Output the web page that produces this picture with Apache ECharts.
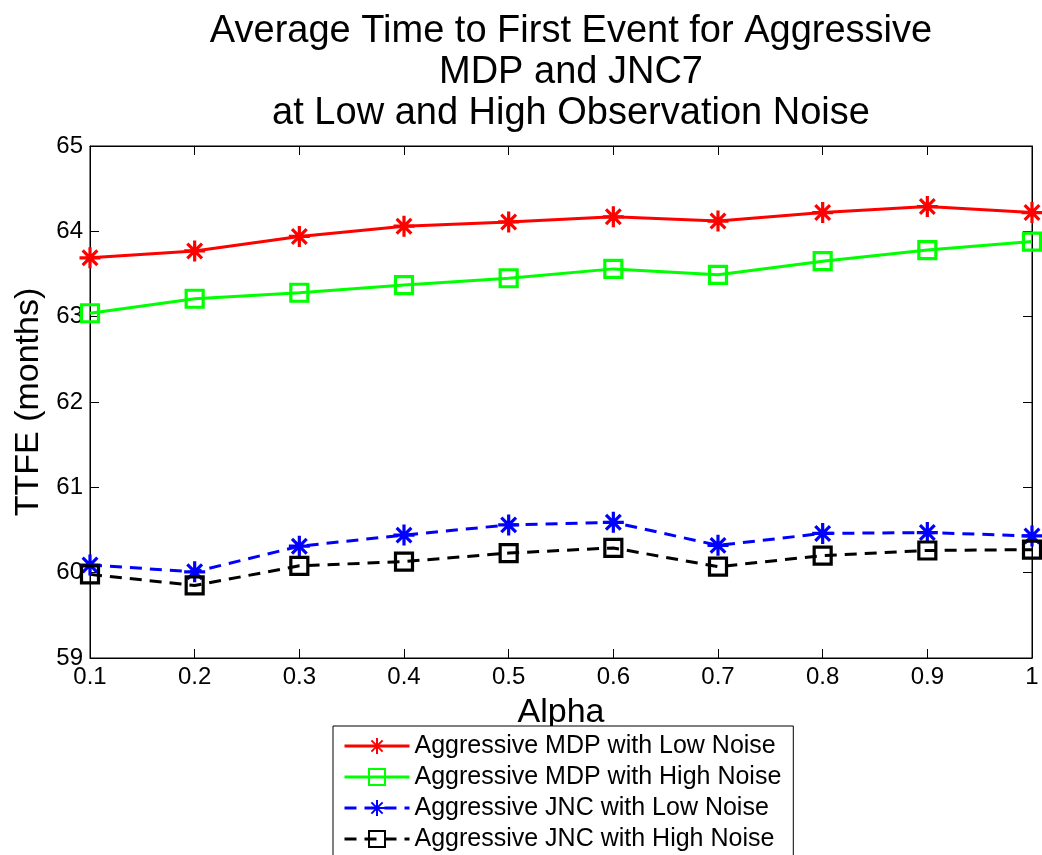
<!DOCTYPE html>
<html>
<head>
<meta charset="utf-8">
<script src="https://cdn.jsdelivr.net/npm/echarts@6/dist/echarts.min.js"></script>
<style>
html,body{margin:0;padding:0;background:#fff;}
#chart{width:1042px;height:855px;}
</style>
</head>
<body>
<div id="chart"></div>
<script>
const alphas = ['0.1','0.2','0.3','0.4','0.5','0.6','0.7','0.8','0.9','1'];
const mdpLow  = [63.69, 63.77, 63.94, 64.06, 64.11, 64.17, 64.12, 64.22, 64.29, 64.22];
const mdpHigh = [63.04, 63.21, 63.28, 63.37, 63.45, 63.56, 63.49, 63.65, 63.78, 63.88];
const jncLow  = [60.09, 60.01, 60.31, 60.44, 60.56, 60.59, 60.32, 60.46, 60.47, 60.43];
const jncHigh = [59.98, 59.85, 60.08, 60.13, 60.23, 60.29, 60.07, 60.20, 60.26, 60.27];
const names = ['Aggressive MDP with Low Noise','Aggressive MDP with High Noise','Aggressive JNC with Low Noise','Aggressive JNC with High Noise'];
const titleLines = ['Average Time to First Event for Aggressive','MDP and JNC7','at Low and High Observation Noise'];

const FONT = 'Liberation Sans, Arial, sans-serif';
const star = 'path://M10,0L10,20M0,10L20,10M3,3L17,17M3,17L17,3';

function mk(name, data, color, symbol, size, dashed) {
  return {
    name: name, type: 'line', data: data,
    xAxisIndex: 0, yAxisIndex: 0,
    symbol: symbol, symbolSize: size, showAllSymbol: true,
    lineStyle: {color: color, width: 3, type: dashed ? [12, 8] : 'solid'},
    itemStyle: {color: symbol === star ? color : 'rgba(0,0,0,0)', borderColor: color, borderWidth: 3.2},
    animation: false
  };
}

const chart = echarts.init(document.getElementById('chart'));
chart.setOption({
  backgroundColor: '#fff',
  title: {
    text: titleLines.join('\n'),
    left: 566, top: 6, textAlign: 'center',
    textStyle: {fontFamily: FONT, fontSize: 38, fontWeight: 'normal', color: '#000', lineHeight: 41}
  },
  grid: {left: 90, right: 10, top: 146, bottom: 197, show: true, borderColor: '#000', borderWidth: 1, backgroundColor: '#fff'},
  legend: {
    orient: 'vertical', left: 333, top: 726, height: 200,
    data: names,
    backgroundColor: '#fff', borderColor: '#000', borderWidth: 1,
    padding: [7, 12, 7, 10],
    itemWidth: 65, itemHeight: 20, itemGap: 5,
    lineStyle: {width: 3},
    textStyle: {fontFamily: FONT, fontSize: 25, lineHeight: 26, color: '#000'}
  },
  xAxis: [{
    type: 'category', data: alphas, boundaryGap: false, position: 'bottom',
    name: 'Alpha', nameLocation: 'middle', nameGap: 38,
    nameTextStyle: {fontFamily: FONT, fontSize: 34, color: '#000'},
    axisLine: {show: true, lineStyle: {color: '#000', width: 1}},
    axisTick: {show: true, inside: true, length: 9, alignWithLabel: true, lineStyle: {color: '#000'}},
    axisLabel: {fontFamily: FONT, fontSize: 24, color: '#000', margin: 7, showMaxLabel: true, showMinLabel: true, interval: 0},
    splitLine: {show: false}
  }, {
    type: 'category', data: alphas, boundaryGap: false, position: 'top',
    axisLine: {show: true, lineStyle: {color: '#000', width: 1}},
    axisTick: {show: true, inside: true, length: 9, alignWithLabel: true, lineStyle: {color: '#000'}},
    axisLabel: {show: false}, splitLine: {show: false}
  }],
  yAxis: [{
    type: 'value', min: 59, max: 65, interval: 1, position: 'left',
    name: 'TTFE (months)', nameLocation: 'middle', nameGap: 42,
    nameTextStyle: {fontFamily: FONT, fontSize: 34, color: '#000'},
    axisLine: {show: true, lineStyle: {color: '#000', width: 1}},
    axisTick: {show: true, inside: true, length: 9, lineStyle: {color: '#000'}},
    axisLabel: {fontFamily: FONT, fontSize: 24, color: '#000', margin: 7},
    splitLine: {show: false}
  }, {
    type: 'value', min: 59, max: 65, interval: 1, position: 'right',
    axisLine: {show: true, lineStyle: {color: '#000', width: 1}},
    axisTick: {show: true, inside: true, length: 9, lineStyle: {color: '#000'}},
    axisLabel: {show: false}, splitLine: {show: false}
  }],
  series: [
    mk(names[0], mdpLow, '#ff0000', star, 21, false),
    mk(names[1], mdpHigh, '#00ff00', 'rect', 17, false),
    mk(names[2], jncLow, '#0000ff', star, 21, true),
    mk(names[3], jncHigh, '#000000', 'rect', 17, true)
  ]
});
</script>
</body>
</html>
